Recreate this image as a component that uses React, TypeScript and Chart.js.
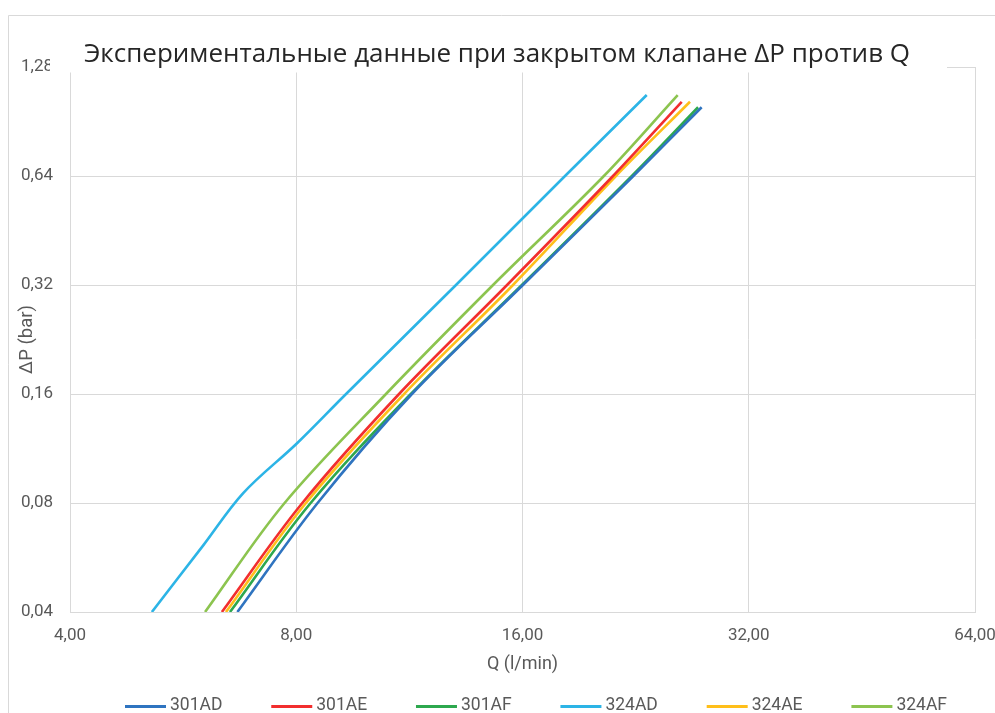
import React, { useEffect, useRef } from "react";
import { Chart, registerables } from "chart.js";

Chart.register(...registerables);

const TITLE = "Экспериментальные данные при закрытом клапане ΔP против Q";
const X_TITLE = "Q (l/min)";
const Y_TITLE = "ΔP (bar)";
const X_TICKS = [4, 8, 16, 32, 64];
const Y_TICKS = [0.04, 0.08, 0.16, 0.32, 0.64, 1.28];

const SERIES_NAMES = ["301AD", "301AE", "301AF", "324AD", "324AE", "324AF"];
const SERIES_COLORS = ["#2F74C0", "#F22E2E", "#2DA84E", "#2CB4E6", "#FFBF1A", "#8CC44F"];

const Q_301AD = [6.68, 8.52, 11.37, 16.02, 22.4, 27.7];
const P_301AD = [0.04, 0.0795, 0.159, 0.32, 0.636, 0.991];

const Q_301AE = [6.37, 8.13, 10.93, 15.26, 21.05, 26.06];
const P_301AE = [0.04, 0.0795, 0.159, 0.32, 0.636, 1.026];

const Q_301AF = [6.53, 8.34, 11.33, 15.97, 22.3, 27.4];
const P_301AF = [0.04, 0.0795, 0.159, 0.32, 0.636, 0.991];

const Q_324AD = [5.14, 6.02, 6.8, 8.02, 9.29, 13.05, 18.17, 23.41];
const P_324AD = [0.04, 0.0612, 0.0852, 0.117, 0.159, 0.32, 0.636, 1.071];

const Q_324AE = [6.45, 8.22, 11.1, 15.54, 21.24, 26.73];
const P_324AE = [0.04, 0.0795, 0.159, 0.32, 0.636, 1.026];

const Q_324AF = [6.05, 7.7, 10.5, 14.62, 20.47, 25.74];
const P_324AF = [0.04, 0.0795, 0.159, 0.32, 0.636, 1.071];

const SERIES_Q = [Q_301AD, Q_301AE, Q_301AF, Q_324AD, Q_324AE, Q_324AF];
const SERIES_P = [P_301AD, P_301AE, P_301AF, P_324AD, P_324AE, P_324AF];

const GRID = "#d9d9d9";
const TEXT = "#595959";
const FONT = "Roboto";

const fmt = (v: number) => v.toFixed(2).replace(".", ",");

const decor = {
  id: "decor",
  beforeDraw(chart: any) {
    const { ctx, width, height } = chart;
    ctx.save();
    ctx.fillStyle = "#ffffff";
    ctx.fillRect(0, 0, width, height);
    ctx.strokeStyle = GRID;
    ctx.lineWidth = 1;
    ctx.beginPath();
    ctx.moveTo(8.5, height);
    ctx.lineTo(8.5, 15.5);
    ctx.lineTo(width, 15.5);
    ctx.stroke();
    ctx.restore();
  },
  afterDraw(chart: any) {
    const { ctx } = chart;
    ctx.save();
    // title box
    ctx.fillStyle = "#ffffff";
    ctx.fillRect(50, 20, 897, 52.5);
    ctx.fillStyle = "#262626";
    ctx.font = '26px "Open Sans"';
    ctx.textAlign = "center";
    ctx.textBaseline = "alphabetic";
    ctx.fillText(TITLE, 497, 62);
    // legend
    ctx.font = `17.5px ${FONT}`;
    ctx.textBaseline = "middle";
    ctx.textAlign = "left";
    const ds = chart.data.datasets;
    const lineLen = 41;
    const gap = 4;
    const widths = ds.map((d: any) => lineLen + gap + ctx.measureText(d.label).width);
    const startX = 125;
    const endX = 947;
    const sum = widths.reduce((a: number, b: number) => a + b, 0);
    const itemGap = (endX - startX - sum) / (ds.length - 1);
    let x = startX;
    const y = 706;
    ds.forEach((d: any, i: number) => {
      ctx.strokeStyle = d.borderColor;
      ctx.lineWidth = 3;
      ctx.beginPath();
      ctx.moveTo(x, y + 0.5);
      ctx.lineTo(x + lineLen, y + 0.5);
      ctx.stroke();
      ctx.fillStyle = TEXT;
      ctx.fillText(d.label, x + lineLen + gap, y);
      x += widths[i] + itemGap;
    });
    ctx.restore();
  },
};

export default function App() {
  const ref = useRef<HTMLCanvasElement>(null);

  useEffect(() => {
    if (!ref.current) return;
    const datasets = SERIES_NAMES.map((name, i) => ({
      label: name,
      data: SERIES_Q[i].map((q, j) => ({ x: q, y: SERIES_P[i][j] })),
      borderColor: SERIES_COLORS[i],
      backgroundColor: SERIES_COLORS[i],
      borderWidth: 2.6,
      pointRadius: 0,
      pointHoverRadius: 0,
      tension: 0.35,
      fill: false,
    }));
    const chart = new Chart(ref.current, {
      type: "line",
      data: { datasets },
      plugins: [decor],
      options: {
        responsive: false,
        animation: false,
        devicePixelRatio: 1,
        layout: { padding: { left: 0, top: 67, right: 20, bottom: 0 } },
        plugins: {
          legend: { display: false },
          title: { display: false },
          tooltip: { enabled: false },
        },
        scales: {
          x: {
            type: "logarithmic",
            min: 4,
            max: 64,
            afterBuildTicks: (s: any) => {
              s.ticks = X_TICKS.map((v) => ({ value: v }));
            },
            afterFit: (s: any) => {
              s.height = 101;
              s.paddingLeft = 0;
              s.paddingRight = 0;
            },
            ticks: {
              callback: (v: any) => fmt(Number(v)),
              font: { family: FONT, size: 17 },
              color: TEXT,
              padding: 14,
              maxRotation: 0,
              autoSkip: false,
            },
            grid: { color: GRID, drawTicks: false, lineWidth: 1 },
            border: { color: GRID },
            title: {
              display: true,
              text: X_TITLE,
              font: { family: FONT, size: 18 },
              color: TEXT,
              padding: { top: 0, bottom: 38 },
            },
          },
          y: {
            type: "logarithmic",
            min: 0.04,
            max: 1.28,
            afterBuildTicks: (s: any) => {
              s.ticks = Y_TICKS.map((v) => ({ value: v }));
            },
            afterFit: (s: any) => {
              s.width = 70;
              s.paddingTop = 0;
              s.paddingBottom = 0;
            },
            ticks: {
              callback: (v: any) => fmt(Number(v)),
              font: { family: FONT, size: 17 },
              color: TEXT,
              padding: 17,
              autoSkip: false,
            },
            grid: { color: GRID, drawTicks: false, lineWidth: 1 },
            border: { color: GRID },
            title: {
              display: true,
              text: Y_TITLE,
              font: { family: FONT, size: 18.5 },
              color: TEXT,
              padding: { top: 16, bottom: 0 },
            },
          },
        },
      },
    });
    return () => chart.destroy();
  }, []);

  return (
    <canvas
      ref={ref}
      width={995}
      height={713}
      style={{ position: "fixed", left: 0, top: 0, width: 995, height: 713 }}
    />
  );
}
